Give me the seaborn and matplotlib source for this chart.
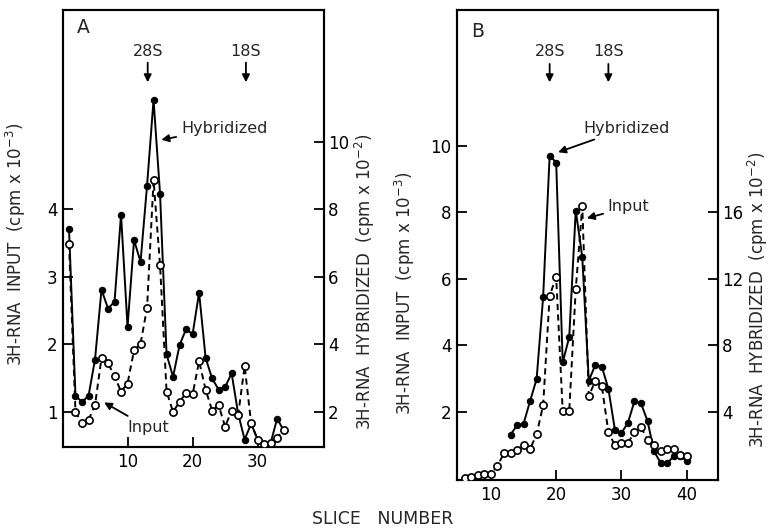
import matplotlib
matplotlib.use("Agg")
import matplotlib.pyplot as plt
import seaborn as sns
import numpy as np

sns.set_style("white")
plt.rcParams['font.family'] = ['DejaVu Sans']

# ---------------- data ----------------
# Panel A
a_slices = list(range(1, 35))
a_hybridized = [7.42, 2.47, 2.30, 2.47, 3.55, 5.62, 5.06, 5.26, 7.84, 4.52,
                7.09, 6.44, 8.70, 11.24, 8.45, 3.70, 3.04, 3.98, 4.45, 4.30,
                5.53, 3.60, 2.99, 2.66, 2.74, 3.14, 1.95, 1.18, 1.65, 1.18,
                1.04, 1.08, 1.80, 1.45]
a_input = [3.49, 1.00, 0.83, 0.88, 1.10, 1.80, 1.72, 1.53, 1.30, 1.42,
           1.91, 2.01, 2.54, 4.43, 3.17, 1.30, 1.00, 1.15, 1.28, 1.26,
           1.75, 1.33, 1.02, 1.10, 0.78, 1.02, 0.95, 1.68, 0.83, 0.59,
           0.52, 0.54, 0.62, 0.73]

# Panel B
b_input_slices = list(range(6, 41))
b_input = [0.03, 0.06, 0.10, 0.13, 0.14, 0.38, 0.77, 0.77, 0.87, 1.01,
           0.89, 1.33, 2.20, 5.49, 6.06, 2.03, 2.03, 5.69, 8.18, 2.48,
           2.94, 2.77, 1.40, 1.00, 1.07, 1.07, 1.40, 1.55, 1.17, 1.00,
           0.82, 0.89, 0.89, 0.72, 0.69]
b_hyb_slices = list(range(13, 41))
b_hybridized = [2.64, 3.20, 3.30, 4.66, 5.98, 10.9, 19.4, 18.98, 6.98, 8.50,
                16.1, 13.3, 5.88, 6.84, 6.72, 5.40, 2.94, 2.74, 3.36, 4.66,
                4.52, 3.46, 1.64, 0.96, 0.92, 1.34, 1.38, 1.04]

a_left_ticks = [1, 2, 3, 4]
a_right_ticks = [2, 4, 6, 8, 10]
a_x_ticks = [10, 20, 30]
b_left_ticks = [2, 4, 6, 8, 10]
b_right_ticks = [4, 8, 12, 16]
b_x_ticks = [10, 20, 30, 40]

label_input = "3H-RNA  INPUT  (cpm x 10$^{-3}$)"
label_hyb = "3H-RNA  HYBRIDIZED  (cpm x 10$^{-2}$)"

# ---------------- figure ----------------
W, H = 769, 531
fig = plt.figure(figsize=(W / 100, H / 100), dpi=100)
fig.patch.set_facecolor("white")

def px_axes(l, t, r, b):
    return [l / W, 1 - b / H, (r - l) / W, (b - t) / H]

axA = fig.add_axes(px_axes(63, 10, 324, 447))
axB = fig.add_axes(px_axes(457, 10, 718, 480))
axA2 = axA.twinx()
axB2 = axB.twinx()

FS = 12
TFS = 12
lw = 1.4
ms_f = 4.6
ms_o = 5.2

def draw(ax_in, ax_hyb, xs_in, ys_in, xs_h, ys_h):
    sns.lineplot(x=xs_h, y=ys_h, ax=ax_hyb, color="black", lw=lw, marker="o",
                 markersize=ms_f, markerfacecolor="black", markeredgecolor="black",
                 zorder=3)
    sns.lineplot(x=xs_in, y=ys_in, ax=ax_in, color="black", lw=lw, marker="o",
                 linestyle=(0, (3.2, 2.2)), markersize=ms_o, markerfacecolor="white",
                 markeredgecolor="black", markeredgewidth=1.2, zorder=4)

draw(axA, axA2, a_slices, a_input, a_slices, a_hybridized)
draw(axB, axB2, b_input_slices, b_input, b_hyb_slices, b_hybridized)

for ax, ax2 in ((axA, axA2), (axB, axB2)):
    ax.set_zorder(ax2.get_zorder() + 1)
    ax.patch.set_visible(False)

# limits
axA.set_xlim(0.08, 40.2)
axA.set_ylim(0.48, 6.95)
axA2.set_ylim(0.96, 13.9)
axB.set_xlim(4.8, 44.8)
axB.set_ylim(-0.04, 14.07)
axB2.set_ylim(-0.08, 28.14)

axA.set_xticks(a_x_ticks)
axA.set_yticks(a_left_ticks)
axA2.set_yticks(a_right_ticks)
axB.set_xticks(b_x_ticks)
axB.set_yticks(b_left_ticks)
axB2.set_yticks(b_right_ticks)

for ax in (axA, axA2, axB, axB2):
    ax.tick_params(direction="in", length=7, width=1.3, labelsize=TFS, pad=4,
                   colors="black")
    for s in ax.spines.values():
        s.set_visible(True)
        s.set_color("black")
        s.set_linewidth(1.5)
    ax.set_xlabel("")
    ax.grid(False)

for ax in (axA, axB):
    ax.tick_params(axis="y", left=True, right=False)
    ax.tick_params(axis="x", bottom=True)
for ax in (axA2, axB2):
    ax.tick_params(axis="y", right=True, left=False, pad=3)

# axis labels
def set_ylab(ax, text, x_px, y_px, l, t, r, b):
    ax.set_ylabel(text, fontsize=FS, rotation=90)
    ax.yaxis.set_label_coords((x_px - l) / (r - l), 1 - (y_px - t) / (b - t))
    ax.yaxis.label.set_verticalalignment("center")
    ax.yaxis.label.set_horizontalalignment("center")
    ax.yaxis.label.set_rotation_mode("default")

set_ylab(axA, label_input, 16, 244, 63, 10, 324, 447)
set_ylab(axA2, label_hyb, 365, 282, 63, 10, 324, 447)
set_ylab(axB, label_input, 405, 293, 457, 10, 718, 480)
set_ylab(axB2, label_hyb, 758, 300, 457, 10, 718, 480)

fig.text(383 / W, 1 - 519 / H, "SLICE   NUMBER", ha="center", va="center",
         fontsize=12.5)

# panel letters
axA.text(0.077, 0.959, "A", transform=axA.transAxes, fontsize=13.5,
         ha="center", va="center")
axB.text(0.08, 0.955, "B", transform=axB.transAxes, fontsize=13.5,
         ha="center", va="center")

arrow_kw = dict(arrowstyle="-|>", color="black", lw=1.3, mutation_scale=11,
                shrinkA=0, shrinkB=0)

def marker(ax, x, y_text, y_top, y_tip, label):
    ax.text(x, y_text, label, ha="center", va="center", fontsize=11.5)
    ax.annotate("", xy=(x, y_tip), xytext=(x, y_top), arrowprops=arrow_kw)

marker(axA, 13.1, 6.33, 6.17, 5.88, "28S")
marker(axA, 28.2, 6.33, 6.17, 5.88, "18S")
marker(axB, 19.0, 12.81, 12.45, 11.9, "28S")
marker(axB, 28.0, 12.81, 12.45, 11.9, "18S")

ann_kw = dict(arrowstyle="-|>", color="black", lw=1.3, mutation_scale=11,
              shrinkA=1, shrinkB=0)
axA.annotate("Hybridized", xy=(15.2, 5.03), xytext=(18.2, 5.2),
             fontsize=11.5, ha="left", va="center", arrowprops=ann_kw)
axA.annotate("Input", xy=(6.4, 1.14), xytext=(9.9, 0.77),
             fontsize=11.5, ha="left", va="center", arrowprops=ann_kw)
axB.annotate("Hybridized", xy=(20.3, 9.8), xytext=(24.1, 10.52),
             fontsize=11.5, ha="left", va="center", arrowprops=ann_kw)
axB.annotate("Input", xy=(24.7, 7.82), xytext=(27.9, 8.16),
             fontsize=11.5, ha="left", va="center", arrowprops=ann_kw)

fig.savefig("out.png", dpi=100, facecolor="white")
